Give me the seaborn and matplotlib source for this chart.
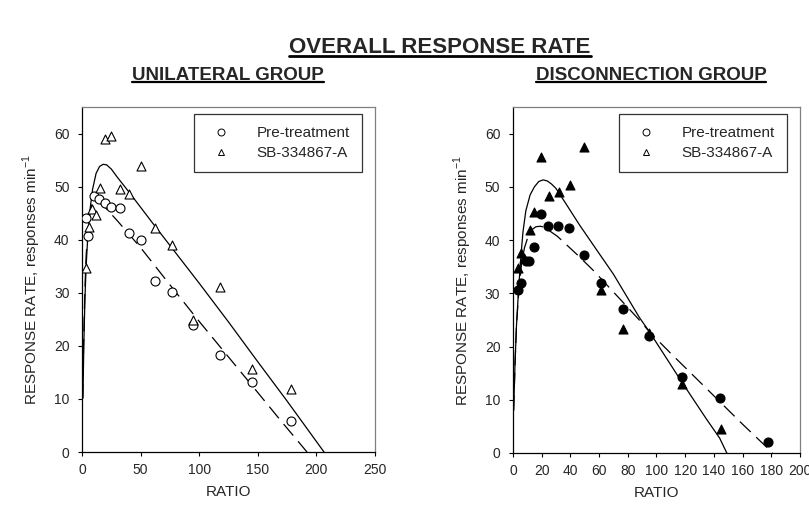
import matplotlib
matplotlib.use("Agg")
import matplotlib.pyplot as plt
import seaborn as sns
import numpy as np
import pandas as pd
from matplotlib.lines import Line2D

# ---------------- data ----------------
# Unilateral group
uni_pre_x = [3, 5.5, 10, 14.5, 19.5, 25, 32, 40, 50, 62, 77, 95, 118, 145, 178]
uni_pre_y = [44.0, 40.7, 48.3, 47.6, 46.9, 46.2, 46.0, 41.2, 39.9, 32.2, 30.1, 24.0, 18.2, 13.1, 5.9]
uni_sb_x = [3.5, 6, 8.5, 12, 15, 20, 25, 32, 40, 50, 62, 77, 95, 118, 145, 178]
uni_sb_y = [34.7, 42.4, 45.7, 44.6, 49.8, 58.9, 59.5, 49.5, 48.6, 53.9, 42.2, 39.0, 24.9, 31.1, 15.6, 11.8]

uni_pre_fit_x = [0.5, 1.5, 2.5, 3.5, 5, 7, 9, 11, 14, 20, 30, 50, 75, 100, 125, 150, 170, 192]
uni_pre_fit_y = [10.0, 22.0, 31.0, 37.0, 42.0, 45.5, 47.2, 47.6, 47.2, 46.0, 43.6, 38.5, 31.5, 24.6, 17.9, 11.2, 5.8, 0.0]
uni_sb_fit_x = [0.8, 1.5, 2.5, 3.5, 5, 7, 9, 12, 15, 18, 21, 25, 30, 40, 60, 80, 100, 125, 150, 175, 197, 206.5]
uni_sb_fit_y = [10.2, 20.0, 29.0, 35.0, 41.0, 46.0, 49.5, 52.5, 53.8, 54.2, 54.1, 53.3, 51.8, 49.0, 43.2, 37.5, 31.8, 24.5, 17.0, 9.6, 2.9, 0.0]

# Disconnection group
dis_pre_x = [3.5, 5.5, 9, 11.5, 14.5, 19.5, 24.7, 31.7, 39.3, 49.5, 61.5, 76.8, 95, 117.5, 144.5, 177.5]
dis_pre_y = [30.7, 31.9, 36.0, 36.0, 38.7, 44.9, 42.6, 42.7, 42.2, 37.2, 32.0, 27.1, 22.0, 14.2, 10.3, 2.1]
dis_sb_x = [3.7, 5.8, 7.9, 11.7, 14.4, 19.6, 24.8, 31.9, 39.6, 49.5, 61.7, 76.8, 94.9, 117.5, 145]
dis_sb_y = [34.7, 37.6, 36.7, 41.8, 45.3, 55.6, 48.2, 49.0, 50.4, 57.4, 30.7, 23.3, 22.5, 13.0, 4.5]

dis_pre_fit_x = [0.5, 1.5, 2.5, 4, 6, 8, 10.5, 13, 16, 19, 22, 31, 45, 56, 75, 88, 95, 110, 130, 145, 160, 181]
dis_pre_fit_y = [8.0, 17.0, 24.0, 30.0, 35.5, 38.5, 40.6, 41.9, 42.5, 42.6, 42.4, 40.7, 37.2, 34.3, 28.8, 25.0, 22.8, 18.7, 13.4, 9.4, 5.4, 0.0]
dis_sb_fit_x = [0.5, 1.5, 2.5, 4, 5.6, 7, 9, 12, 15, 18, 21, 24, 27, 30, 37, 46.5, 60, 70, 88, 95, 117.5, 135, 144, 149]
dis_sb_fit_y = [8.0, 17.0, 24.0, 31.0, 37.0, 41.5, 45.5, 48.5, 50.0, 51.0, 51.3, 51.1, 50.5, 49.7, 46.8, 42.8, 37.5, 33.6, 25.5, 22.8, 13.4, 6.3, 2.8, 0.0]

legend_labels = ["Pre-treatment", "SB-334867-A"]
uni_xticks = [0, 50, 100, 150, 200, 250]
dis_xticks = [0, 20, 40, 60, 80, 100, 120, 140, 160, 180, 200]
yticks = [0, 10, 20, 30, 40, 50, 60]

# ---------------- style ----------------
sns.set_theme(style="white")
plt.rcParams["font.family"] = ["Liberation Sans", "DejaVu Sans"]
plt.rcParams["mathtext.fontset"] = "custom"
plt.rcParams["mathtext.rm"] = "Liberation Sans"

fig = plt.figure(figsize=(8.09, 5.08), dpi=100)
ax1 = fig.add_axes([0.1014, 0.1102, 0.3621, 0.6792])
ax2 = fig.add_axes([0.6340, 0.1083, 0.3549, 0.6811])

DASH = (0, (12, 6))
MS = 42


def draw(ax, pre_x, pre_y, sb_x, sb_y, pfx, pfy, sfx, sfy, filled, xlim, xticks):
    fc = "black" if filled else "white"
    sns.lineplot(x=pfx, y=pfy, ax=ax, color="black", lw=0.9, linestyle=DASH,
                 sort=False, estimator=None)
    sns.lineplot(x=sfx, y=sfy, ax=ax, color="black", lw=0.9,
                 sort=False, estimator=None)
    sns.scatterplot(x=pre_x, y=pre_y, ax=ax, marker="o", s=MS, facecolor=fc,
                    edgecolor="black", linewidth=0.8, zorder=3)
    sns.scatterplot(x=sb_x, y=sb_y, ax=ax, marker="^", s=MS, facecolor=fc,
                    edgecolor="black", linewidth=0.8, zorder=3)
    ax.set_xlim(*xlim)
    ax.set_ylim(0, 65)
    ax.set_xticks(xticks)
    ax.set_yticks(yticks)
    ax.tick_params(axis="both", which="major", direction="out", length=3,
                   width=0.8, color="black", labelsize=10,
                   bottom=True, left=True)
    ax.tick_params(axis="x", pad=5)
    ax.tick_params(axis="y", pad=6)
    for s in ["left", "bottom"]:
        ax.spines[s].set_color("black")
        ax.spines[s].set_linewidth(0.9)
    for s in ["top", "right"]:
        ax.spines[s].set_color("#808080")
        ax.spines[s].set_linewidth(0.9)
    ax.set_xlabel("RATIO", fontsize=11, labelpad=6)
    ax.set_ylabel("RESPONSE RATE, responses min$^{-1}$", fontsize=11, labelpad=8)
    handles = [
        Line2D([], [], marker="o", ls="none", markersize=5, markerfacecolor="white",
               markeredgecolor="black", markeredgewidth=0.7),
        Line2D([], [], marker="^", ls="none", markersize=5, markerfacecolor="white",
               markeredgecolor="black", markeredgewidth=0.7),
    ]
    leg = ax.legend(handles, legend_labels, loc="upper right", fontsize=11,
                    frameon=True, fancybox=False, edgecolor="black",
                    borderpad=0.8, handletextpad=1.3, labelspacing=0.4,
                    borderaxespad=0, bbox_to_anchor=(0.955, 0.98))
    leg.get_frame().set_linewidth(0.9)


draw(ax1, uni_pre_x, uni_pre_y, uni_sb_x, uni_sb_y,
     uni_pre_fit_x, uni_pre_fit_y, uni_sb_fit_x, uni_sb_fit_y,
     False, (0, 250), uni_xticks)
draw(ax2, dis_pre_x, dis_pre_y, dis_sb_x, dis_sb_y,
     dis_pre_fit_x, dis_pre_fit_y, dis_sb_fit_x, dis_sb_fit_y,
     True, (0, 200), dis_xticks)

# titles with underline
t0 = fig.text(440 / 809, 1 - 47 / 508, "OVERALL RESPONSE RATE", ha="center", va="center",
              fontsize=16, fontweight="bold")
t1 = fig.text(228 / 809, 1 - 75 / 508, "UNILATERAL GROUP", ha="center", va="center",
              fontsize=13.5, fontweight="bold")
t2 = fig.text(651 / 809, 1 - 75 / 508, "DISCONNECTION GROUP", ha="center", va="center",
              fontsize=13.5, fontweight="bold")

fig.canvas.draw()
r = fig.canvas.get_renderer()
for t, lw in [(t0, 2.0), (t1, 1.6), (t2, 1.6)]:
    bb = t.get_window_extent(renderer=r).transformed(fig.transFigure.inverted())
    y = bb.y0 + 0.003
    fig.add_artist(Line2D([bb.x0, bb.x1], [y, y], color="black", lw=lw,
                          transform=fig.transFigure))

fig.savefig("out.png", dpi=100)
